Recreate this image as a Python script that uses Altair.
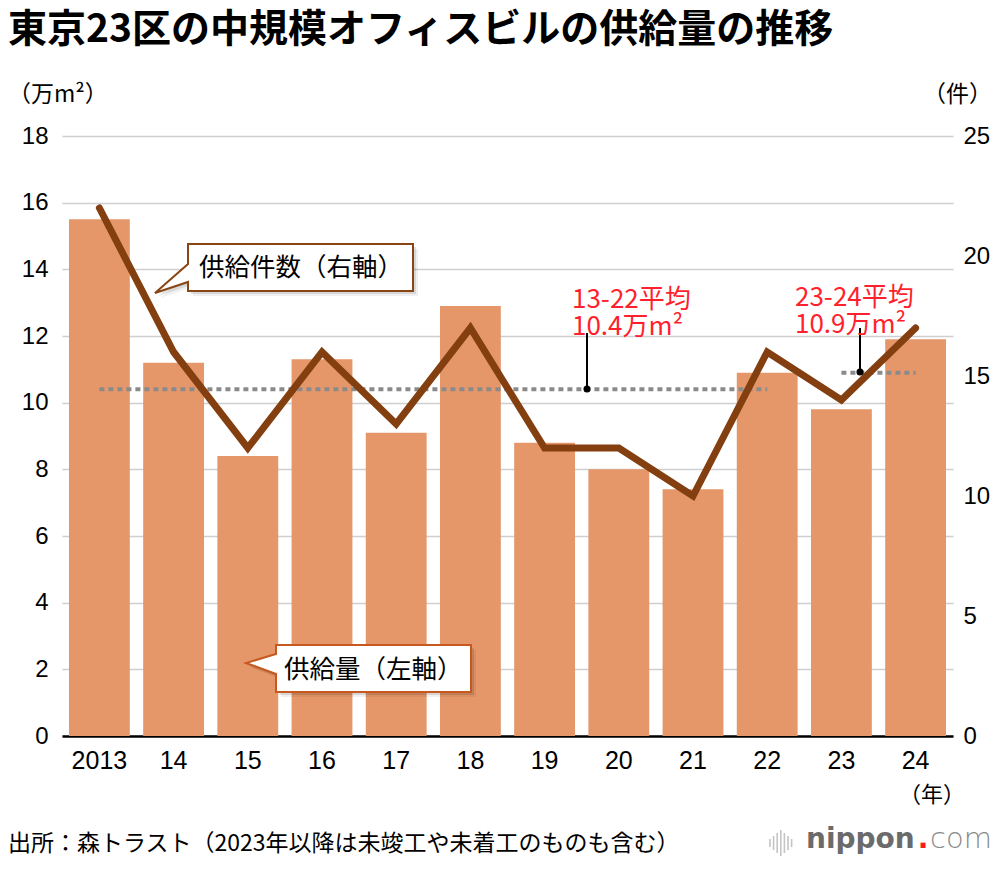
import altair as alt
import pandas as pd

# ---------------- data ----------------
years = ["2013", "14", "15", "16", "17", "18", "19", "20", "21", "22", "23", "24"]
supply = [15.5, 11.2, 8.4, 11.3, 9.1, 12.9, 8.8, 8.0, 7.4, 10.9, 9.8, 11.9]   # 万m2 (left axis)
counts = [22, 16, 12, 16, 13, 17, 12, 12, 10, 16, 14, 17]                     # 件 (right axis)
avg_from = ["2013", "23"]
avg_to = ["22", "24"]
avg_value = [10.4, 10.9]
left_ticks = [0, 2, 4, 6, 8, 10, 12, 14, 16, 18]
right_ticks = [0, 5, 10, 15, 20, 25]

title_text = "東京23区の中規模オフィスビルの供給量の推移"
left_unit = "（万m²）"
right_unit = "（件）"
year_unit = "（年）"
callout_line = "供給件数（右軸）"
callout_bar = "供給量（左軸）"
avg_label_1 = "13-22平均\n10.4万m²"
avg_label_2 = "23-24平均\n10.9万m²"
source_text = "出所：森トラスト（2023年以降は未竣工や未着工のものも含む）"
logo_parts = ["nippon", ".", "com"]

# ---------------- style ----------------
JP = "Noto Sans CJK JP"
NUM = "Liberation Sans"
BAR = "#E5976A"
LINE = "#833F0F"
RED = "#FF1F2D"
W, H = 891, 600

df = pd.DataFrame({"year": years, "supply": supply, "count": counts})
avg_df = pd.DataFrame({"start": avg_from, "end": avg_to, "val": avg_value})

xscale = alt.Scale(domain=years, paddingInner=0.18, paddingOuter=0.094)
yleft = alt.Scale(domain=[0, 18], nice=False, zero=True)
yright = alt.Scale(domain=[0, 25], nice=False, zero=True)


def xaxis():
    return alt.Axis(title=None, labelAngle=0, domain=True, domainColor="black",
                    domainWidth=2.5, ticks=False, labelFont=NUM, labelFontSize=25,
                    labelPadding=12, labelColor="black", grid=False)


bars = alt.Chart(df).mark_bar(color=BAR).encode(
    x=alt.X("year:N", scale=xscale, sort=years, axis=xaxis()),
    y=alt.Y("supply:Q", scale=yleft,
            axis=alt.Axis(values=left_ticks, title=None, domain=False, ticks=False,
                          labelFont=NUM, labelFontSize=24, labelPadding=14,
                          labelColor="black", grid=True, gridColor="#cfcfcf",
                          gridWidth=1.5)),
)

avg = alt.Chart(avg_df).mark_rule(color="#8a8a8a", strokeWidth=4, strokeDash=[5, 4]).encode(
    x=alt.X("start:N", scale=xscale, sort=years, axis=xaxis(), bandPosition=0.5),
    x2="end:N",
    y=alt.Y("val:Q", scale=yleft, axis=None),
)

line = alt.Chart(df).mark_line(color=LINE, strokeWidth=7, strokeCap="round",
                               strokeJoin="miter").encode(
    x=alt.X("year:N", scale=xscale, sort=years, axis=xaxis()),
    y=alt.Y("count:Q", scale=yright,
            axis=alt.Axis(orient="right", values=right_ticks, title=None, domain=False,
                          ticks=False, grid=False, labelFont=NUM, labelFontSize=24,
                          labelPadding=10, labelColor="black")),
)

ONE = pd.DataFrame({"t": [""]})


def txt(s, x, y, size, color="black", font=JP, weight="normal", align="left",
        baseline="middle", line_height=None):
    kw = dict(align=align, baseline=baseline, font=font, fontSize=size,
              fontWeight=weight, color=color)
    if line_height:
        kw.update(lineBreak="\n", lineHeight=line_height)
    return alt.Chart(pd.DataFrame({"t": [s]})).mark_text(**kw).encode(
        text="t:N", x=alt.value(x), y=alt.value(y))


def shape(path, x, y, fill, stroke=None, sw=0, opacity=1.0):
    kw = dict(shape=path, size=4, filled=True, fill=fill, fillOpacity=opacity,
              opacity=1)
    if stroke:
        kw.update(stroke=stroke, strokeWidth=sw, strokeOpacity=1)
    else:
        kw.update(strokeWidth=0)
    return alt.Chart(ONE).mark_point(**kw).encode(x=alt.value(x), y=alt.value(y))


def vrule(x, y1, y2, color="black", width=2):
    return alt.Chart(ONE).mark_rule(color=color, strokeWidth=width).encode(
        x=alt.value(x), y=alt.value(y1), y2=alt.value(y2))


def dot(x, y, size=50, color="black"):
    return alt.Chart(ONE).mark_point(shape="circle", filled=True, size=size,
                                     color=color, opacity=1).encode(
        x=alt.value(x), y=alt.value(y))


decor = []
# title and unit labels (plot origin at page (62,136))
decor.append(txt(title_text, -54, -106.5, 39, weight="bold"))
decor.append(txt(left_unit, -54, -41, 23))
decor.append(txt(right_unit, 930, -41, 23, align="right"))
decor.append(txt(year_unit, 870, 659, 22, align="center"))

# callout for line
p1 = "M0,0H225V47H0V38L-33,49L0,20Z"
decor.append(shape(p1, 131, 113, "#000000", opacity=0.06))
decor.append(shape(p1, 129, 111, "#000000", opacity=0.10))
decor.append(shape(p1, 126, 108, "white", stroke="#8A4514", sw=2))
decor.append(txt(callout_line, 137, 132, 25.5))

# callout for bars
p2 = "M0,0H195V47H0V29L-30,18L0,9Z"
decor.append(shape(p2, 219, 514, "#000000", opacity=0.06))
decor.append(shape(p2, 217, 512, "#000000", opacity=0.10))
decor.append(shape(p2, 214, 509, "white", stroke="#C8581E", sw=2))
decor.append(txt(callout_bar, 222, 534, 25.5))

# average annotations
decor.append(vrule(525, 197, 253))
decor.append(dot(525, 253))
decor.append(txt(avg_label_1, 510, 164, 26, color=RED, line_height=27))
decor.append(vrule(798, 192, 236))
decor.append(dot(798, 236))
decor.append(txt(avg_label_2, 733, 162, 26, color=RED, line_height=27))

# footer
decor.append(txt(source_text, -54, 708, 23))

# logo
bar_h = [8, 14, 20, 26, 20, 14, 8]
for i, hh in enumerate(bar_h):
    decor.append(vrule(708 + i * 3.6, 707 - hh / 2, 707 + hh / 2, color="#c4c4c4", width=1.6))
decor.append(txt(logo_parts[0], 744, 712, 28, color="#6b6b6b", font="DejaVu Sans",
                 weight="bold", baseline="alphabetic"))
decor.append(txt(logo_parts[1], 861, 712, 28, color="#ff1a1a", font="DejaVu Sans",
                 weight="bold", align="center", baseline="alphabetic"))
decor.append(txt(logo_parts[2], 868, 712, 29, color="#8a8a8a", font="DejaVu Sans",
                 weight=300, baseline="alphabetic"))

chart = alt.layer(bars, avg, line, *decor).resolve_scale(y="independent").properties(
    width=W, height=H,
    background="white",
    autosize=alt.AutoSizeParams(type="none"),
    padding={"left": 54, "top": 128, "right": 38, "bottom": 121},
).configure_view(stroke="transparent", strokeWidth=0)

chart.save("out.html", embed_options={"renderer": "svg", "actions": False})
